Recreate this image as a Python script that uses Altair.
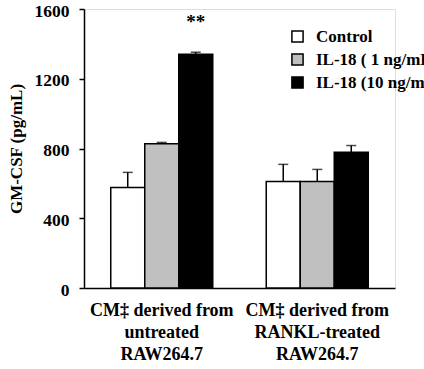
import altair as alt
import pandas as pd

groups = ["CM‡ derived from|untreated|RAW264.7", "CM‡  derived from|RANKL-treated|RAW264.7"]
treatments = ["Control", "IL-18 ( 1 ng/mL)", "IL-18 (10 ng/mL)"]
colors = ["#ffffff", "#c0c0c0", "#000000"]
values_g1 = [577, 827, 1340]
errors_g1 = [86, 8, 12]
values_g2 = [611, 611, 779]
errors_g2 = [98, 69, 38]
y_ticks = [0, 400, 800, 1200, 1600]

rows = []
for g, vals, errs in [(groups[0], values_g1, errors_g1), (groups[1], values_g2, errors_g2)]:
    for t, v, e in zip(treatments, vals, errs):
        rows.append({"group": g, "treat": t, "value": v, "top": v + e})
df = pd.DataFrame(rows)

font = "Times New Roman, Liberation Serif, serif"

x = alt.X("group:N", sort=groups, title=None,
          scale=alt.Scale(paddingInner=0.344, paddingOuter=0.172),
          axis=alt.Axis(labelExpr="split(datum.label, '|')", labelAngle=0, ticks=False,
                        labelFont=font, labelFontWeight="bold", labelFontSize=18,
                        labelColor="black", labelLineHeight=22, labelPadding=13,
                        domainColor="black", domainWidth=1.5, labelBaseline="top"))
xo = alt.XOffset("treat:N", sort=treatments)
yscale = alt.Scale(domain=[0, 1600])

bars = alt.Chart(df).mark_bar(stroke="black", strokeWidth=1.5).encode(
    x=x, xOffset=xo,
    y=alt.Y("value:Q", scale=yscale, title="GM-CSF (pg/mL)",
            axis=alt.Axis(values=y_ticks, format="d", grid=False, tickSize=5, tickColor="black",
                          tickWidth=1.5, domainColor="black", domainWidth=1.5,
                          labelFont=font, labelFontWeight="bold", labelFontSize=17.5,
                          labelColor="black", labelPadding=10, labelOffset=2,
                          titleFont=font, titleFontWeight="bold", titleFontSize=17,
                          titleColor="black", titlePadding=9)),
    fill=alt.Fill("treat:N", sort=treatments, scale=alt.Scale(domain=treatments, range=colors),
                  legend=alt.Legend(title=None, orient="none", legendX=205, legendY=19,
                                    symbolType="square", symbolSize=125, symbolStrokeColor="black",
                                    symbolStrokeWidth=1.5, labelFont=font, labelFontWeight="bold",
                                    labelFontSize=17, labelColor="black", rowPadding=4,
                                    labelOffset=10, padding=0, labelLimit=400)),
)

err = alt.Chart(df).mark_rule(color="black", strokeWidth=1.5).encode(
    x=x, xOffset=xo, y=alt.Y("value:Q", scale=yscale), y2="top:Q")
caps = alt.Chart(df).mark_tick(color="black", thickness=1.5, size=10, orient="horizontal").encode(
    x=x, xOffset=xo, y=alt.Y("top:Q", scale=yscale))

star_df = pd.DataFrame({"group": [groups[0]], "treat": [treatments[2]], "y": [1525], "t": ["**"]})
star = alt.Chart(star_df).mark_text(font=font, fontWeight="bold", fontSize=19, color="black").encode(
    x=x, xOffset=xo, y=alt.Y("y:Q", scale=yscale), text="t:N")

chart = alt.layer(bars, err, caps, star).properties(
    width=311, height=279,
    autosize=alt.AutoSizeParams(type="none"),
    padding={"left": 84, "top": 9, "right": 29, "bottom": 81},
).configure_view(stroke=None).configure(background="white")

chart.save("out.html", embed_options={"renderer": "svg", "actions": False})
